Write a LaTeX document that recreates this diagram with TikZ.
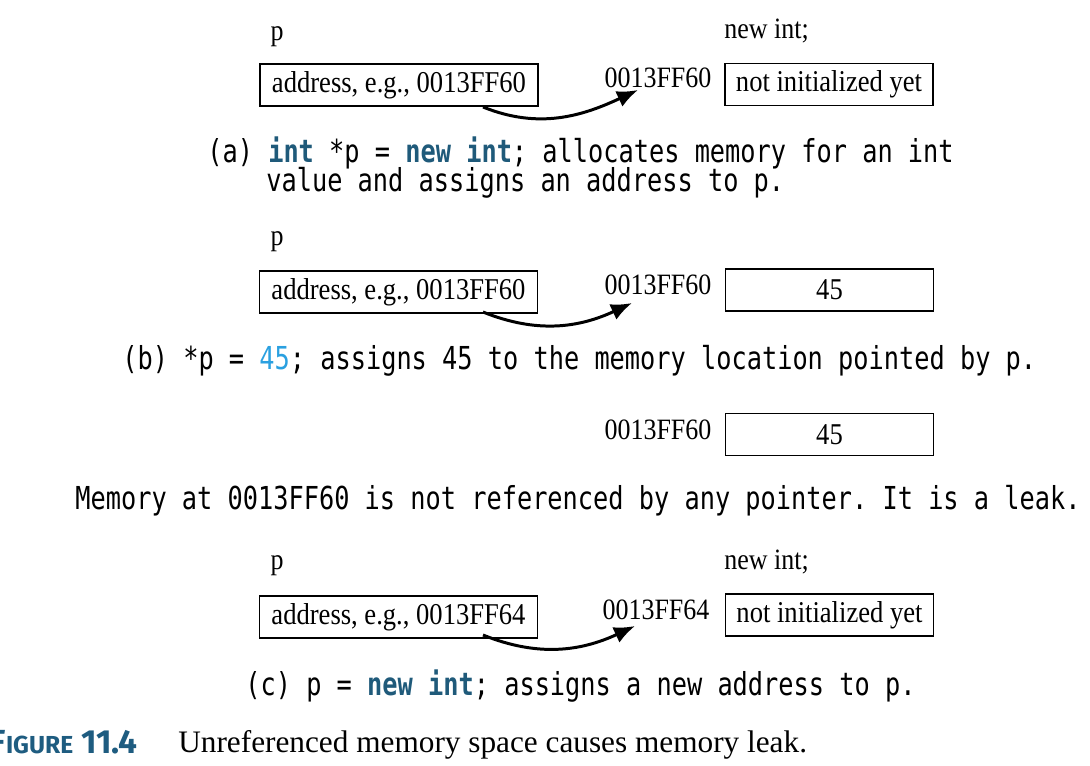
\documentclass[tikz,border=0pt]{standalone}
\usepackage{fontspec}
\setmainfont{Liberation Serif}[FakeStretch=0.88]
\setmonofont{DejaVu Sans Mono}[FakeStretch=0.8]
\newfontfamily\figfont{Fira Sans}
\newfontfamily\capfont{Liberation Serif}
\usetikzlibrary{arrows.meta, positioning, calc}

\definecolor{kwblue}{HTML}{1F5A7A}
\definecolor{numblue}{HTML}{2AA0E0}
\definecolor{figteal}{HTML}{1E5C80}

\newcommand{\kw}[1]{\textbf{\textcolor{kwblue}{#1}}}

\begin{document}
\begin{tikzpicture}[
  x=0.02cm, y=-0.02cm,
  cell/.style  = {draw, line width=1.1pt, minimum height=0.84cm, inner sep=2pt,
                  font=\fontsize{17.2pt}{20pt}\selectfont},
  ptrbox/.style = {cell, minimum width=5.56cm},
  membox/.style = {cell, minimum width=4.16cm},
  label/.style = {inner sep=0pt, font=\fontsize{16.8pt}{20pt}\selectfont},
  code/.style  = {inner sep=0pt, anchor=base west, font=\ttfamily\fontsize{18pt}{21pt}\selectfont},
  ptr/.style   = {line width=1.7pt, -{Latex[length=4.2mm, width=3.4mm]}}
]
\useasboundingbox (0,0) rectangle (1090,766);

%--------------------------------------------------
% (a) int *p = new int;
%--------------------------------------------------
\node[label] (pa) at (277,37) {p};
\node[label, anchor=base west] (newa) at (724,39) {new int;};
\node[ptrbox] (addra) at (399,85) {address, e.g., 0013FF60};
\node[label] (laba) at (658,78) {0013FF60};
\node[membox] (mema) at (829,84.5) {not initialized yet};

\coordinate (srca) at (483,107);
\coordinate (tipa) at (638,90);
\draw[ptr] (srca) to[out=-22, in=205] (tipa);

\node[code] (capa) at (207,163)
  {(a) \kw{int} *p = \kw{new} \kw{int}; allocates memory for an int};
\node[code] (capa2) at (266,192) {value and assigns an address to p.};

%--------------------------------------------------
% (b) *p = 45;
%--------------------------------------------------
\node[label] (pb) at (277,242) {p};
\node[ptrbox] (addrb) at (398.5,292) {address, e.g., 0013FF60};
\node[label] (labb) at (658,285) {0013FF60};
\node[membox] (memb) at (829.5,290) {45};

\coordinate (srcb) at (483,312);
\coordinate (tipb) at (632,303);
\draw[ptr] (srcb) to[out=-22, in=205] (tipb);

\node[code] (capb) at (122,370)
  {(b) *p = \textcolor{numblue}{45}; assigns 45 to the memory location pointed by p.};

%--------------------------------------------------
% leaked memory
%--------------------------------------------------
\node[label] (labl) at (658,430) {0013FF60};
\node[membox] (meml) at (829.5,434.5) {45};

\node[code] (capl) at (75,510)
  {Memory at 0013FF60 is not referenced by any pointer. It is a leak.};

%--------------------------------------------------
% (c) p = new int;
%--------------------------------------------------
\node[label] (pc) at (277,566) {p};
\node[label, anchor=base west] (newc) at (724,570) {new int;};
\node[ptrbox] (addrc) at (398.5,617) {address, e.g., 0013FF64};
\node[label] (labc) at (656,610) {0013FF64};
\node[membox] (memc) at (829.5,615) {not initialized yet};

\coordinate (srcc) at (483,635);
\coordinate (tipc) at (635,626);
\draw[ptr] (srcc) to[out=-22, in=205] (tipc);

\node[code] (capc) at (245,696)
  {(c) p = \kw{new} \kw{int}; assigns a new address to p.};

%--------------------------------------------------
% figure caption
%--------------------------------------------------
\node[inner sep=0pt, anchor=base east, text=figteal] (fignum) at (138,754)
  {\figfont\bfseries\fontsize{19pt}{22pt}\selectfont F\fontsize{14pt}{22pt}\selectfont IGURE\fontsize{19pt}{22pt}\selectfont\ 11.4};
\node[inner sep=0pt, anchor=base west] (figcap) at (178,753)
  {\capfont\fontsize{17.8pt}{22pt}\selectfont Unreferenced memory space causes memory leak.};

\end{tikzpicture}
\end{document}
